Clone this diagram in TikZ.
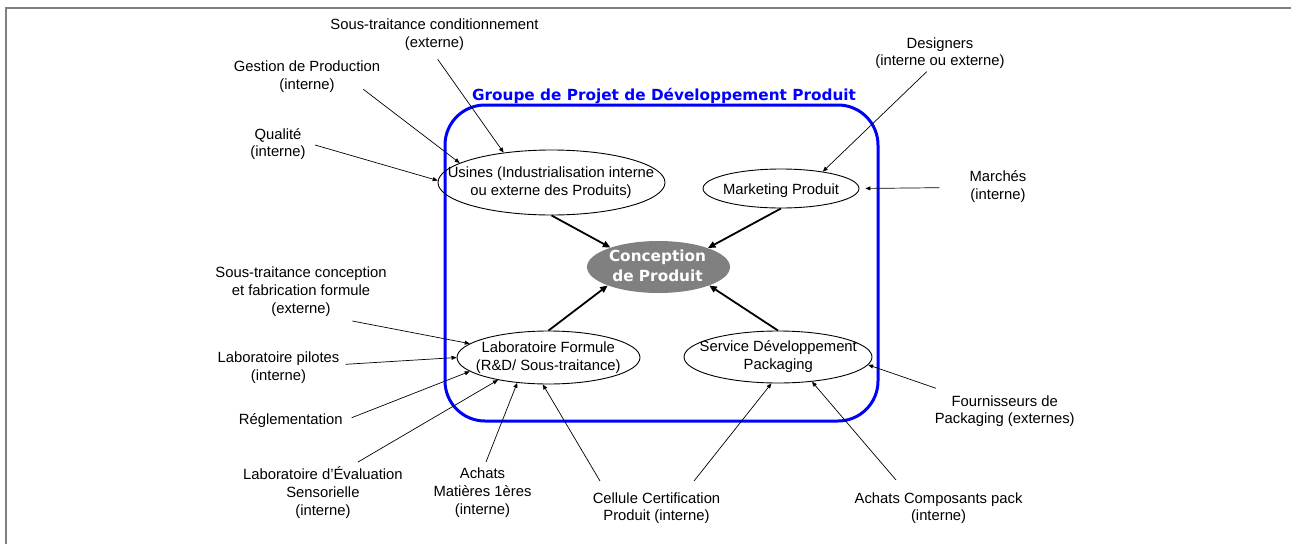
\documentclass[tikz,border=0pt]{standalone}
\usepackage{fontspec}
\setmainfont{Liberation Sans}
\newfontfamily\dejavu{DejaVu Sans}
\usetikzlibrary{shapes.geometric,arrows.meta}
\definecolor{framegray}{RGB}{128,128,128}
\definecolor{cgray}{RGB}{128,128,128}
\definecolor{pblue}{RGB}{0,0,255}
\tikzset{
  lbl/.style={align=center, inner sep=0pt, font=\fontsize{14.8}{17.8}\selectfont,
    execute at begin node=\strut, execute at end node=\strut},
  ell/.style={draw, ellipse, inner sep=0pt, line width=0.9pt},
  feedarrow/.style={line width=0.7pt, -{Triangle[length=5pt,width=4pt]}},
  mainarrow/.style={line width=1.8pt, -{Triangle[length=7.5pt,width=6.5pt]}},
  grpbox/.style={draw=pblue, line width=3pt, rounded corners=40pt, inner sep=0pt},
  grptitle/.style={inner sep=0pt, text=pblue, font=\dejavu\bfseries\fontsize{15.3}{18}\selectfont},
  conctext/.style={align=center, inner sep=0pt, text=white,
    font=\dejavu\bfseries\fontsize{15.3}{20}\selectfont,
    execute at begin node=\strut, execute at end node=\strut},
}
\begin{document}
\begin{tikzpicture}[x=1pt,y=-1pt]
\useasboundingbox (0,0) rectangle (1291,544);
\draw[framegray, line width=2pt] (5.7,544) -- (5.7,7.8) -- (1291,7.8);

% group box
\node[grpbox, minimum width=433pt, minimum height=316pt] (grp) at (661.5,263) {};
\node[grptitle, anchor=base] (ttl) at (664,100.7) {Groupe de Projet de Développement Produit};

% inner ellipses
\node[ell, minimum width=227pt, minimum height=65pt] (usines) at (551.5,182.5) {};
\node[lbl] (usinesT) at (551,183.9) {Usines (Industrialisation interne\\ou externe des Produits)};
\node[ell, minimum width=156pt, minimum height=39pt] (mkt) at (781,188.5) {};
\node[lbl] (mktT) at (781,191.4) {Marketing Produit};
\node[ell, minimum width=183pt, minimum height=53pt] (lab) at (548.5,357.5) {};
\node[lbl] (labT) at (548.3,358.9) {Laboratoire Formule\\(R\&D/ Sous-traitance)};
\node[ell, minimum width=188pt, minimum height=52pt] (svc) at (778,357) {};
\node[lbl] (svcT) at (778.3,357.9) {Service Développement\\Packaging};
\node[ellipse, fill=cgray, minimum width=143pt, minimum height=52pt, inner sep=0pt] (conc) at (658.5,267) {};
\node[conctext] (concT) at (657.5,269) {Conception\\de Produit};

% outer labels
\node[lbl] (stc) at (434.5,35.9) {Sous-traitance conditionnement\\(externe)};
\node[lbl] (gest) at (307,78.1) {Gestion de Production\\(interne)};
\node[lbl] (qual) at (278,145.3) {Qualité\\(interne)};
\node[lbl] (des) at (940,54.3) {Designers\\(interne ou externe)};
\node[lbl] (march) at (998,187.6) {Marchés\\(interne)};
\node[lbl] (stcf) at (301,293.1) {Sous-traitance conception\\et fabrication formule\\(externe)};
\node[lbl] (labp) at (278.5,368.9) {Laboratoire pilotes\\(interne)};
\node[lbl] (regl) at (290.7,421.4) {Réglementation};
\node[lbl] (labe) at (322.9,493.9) {Laboratoire d'Évaluation\\Sensorielle\\(interne)};
\node[lbl] (achmp) at (482.5,493.9) {Achats\\Matières 1ères\\(interne)};
\node[lbl] (cell) at (656.5,509.4) {Cellule Certification\\Produit (interne)};
\node[lbl] (achcp) at (938.6,509.4) {Achats Composants pack\\(interne)};
\node[lbl] (four) at (1004.7,412.4) {Fournisseurs de\\Packaging (externes)};

% connector start points near the labels
\coordinate (s1) at (437.7,59.3);
\coordinate (s2) at (363.3,89.3);
\coordinate (s3) at (315,145);
\coordinate (s4) at (926.7,71.7);
\coordinate (s5) at (939.3,187.7);
\coordinate (s6) at (352.3,321);
\coordinate (s7) at (345.7,364.3);
\coordinate (s8) at (351.7,417.7);
\coordinate (s9) at (358,462);
\coordinate (s10) at (486,462);
\coordinate (s11) at (600,481);
\coordinate (s12) at (694,481);
\coordinate (s13) at (896,480);
\coordinate (s14) at (936,388.3);

% feeding arrows
\draw[feedarrow] (s1) -- (usines.148.8);
\draw[feedarrow] (s2) -- (usines.168.6);
\draw[feedarrow] (s3) -- (usines.179.1);
\draw[feedarrow] (s4) -- (mkt.22.8);
\draw[feedarrow, shorten >=6pt] (s5) -- (mkt.0);
\draw[feedarrow] (s6) -- (lab.170.4);
\draw[feedarrow] (s7) -- (lab.180);
\draw[feedarrow] (s8) -- (lab.190.1);
\draw[feedarrow] (s9) -- (lab.204.5);
\draw[feedarrow] (s10) -- (lab.219.6);
\draw[feedarrow] (s11) -- (lab.258.6);
\draw[feedarrow] (s12) -- (svc.256.5);
\draw[feedarrow] (s13) -- (svc.324.5);
\draw[feedarrow] (s14) -- (svc.355.9);

% main arrows
\draw[mainarrow] (usines.south) -- (conc.158);
\draw[mainarrow] (mkt.south) -- (conc.21);
\draw[mainarrow] (lab.north) -- (conc.200);
\draw[mainarrow] (svc.north) -- (conc.340);
\end{tikzpicture}
\end{document}
